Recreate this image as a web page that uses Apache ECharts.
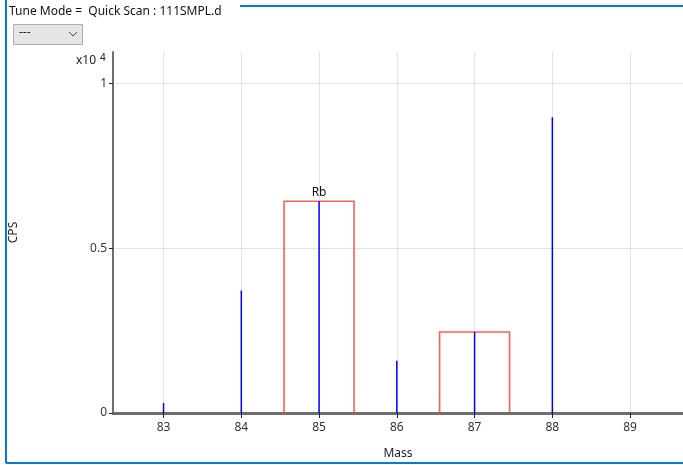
<!DOCTYPE html>
<html>
<head>
<meta charset="utf-8">
<script src="https://cdn.jsdelivr.net/npm/echarts@6/dist/echarts.min.js"></script>
<style>
  html, body { margin: 0; padding: 0; background: #fff; }
  #chart { width: 683px; height: 465px; }
</style>
</head>
<body>
<div id="chart"></div>
<script>
// mass spectrum sticks (CPS in units of 1e4)
const stickMasses = [83, 84, 85, 86, 87, 88];
const stickValues = [0.03, 0.372, 0.643, 0.159, 0.246, 0.898];

// red element windows
const boxMasses = [85, 87];
const boxValues = [0.643, 0.246];
const boxLabels = ["Rb", ""];
const boxHalfWidth = 0.45;

const xTicks = [83, 84, 85, 86, 87, 88, 89];
const yTicks = [0, 0.5, 1];

const font = "'Noto Sans', 'Open Sans', sans-serif";

const chart = echarts.init(document.getElementById("chart"));

const stickData = stickMasses.map((m, i) => [m, stickValues[i]]);
const boxData = boxMasses.map((m, i) => [m, boxValues[i], boxLabels[i]]);

chart.setOption({
  animation: false,
  grid: { left: 108, right: 0, top: 52, bottom: 48 },
  xAxis: {
    type: "value",
    min: 82.35,
    max: 89.68,
    name: "Mass",
    nameLocation: "middle",
    nameGap: 35,
    nameTextStyle: { color: "#222", fontSize: 12, fontFamily: font },
    axisLine: { lineStyle: { color: "#6e6e6e", width: 3 } },
    axisTick: { customValues: xTicks, length: 5, lineStyle: { color: "#222" } },
    axisLabel: { customValues: xTicks, color: "#333", fontSize: 12, fontFamily: font, margin: 9 },
    splitLine: { show: true, lineStyle: { color: "#e3e3e3", width: 1 } }
  },
  yAxis: {
    type: "value",
    min: 0,
    max: 1.096,
    name: "CPS",
    nameLocation: "middle",
    nameGap: 93,
    nameRotate: 90,
    nameTextStyle: { color: "#222", fontSize: 12, fontFamily: font },
    axisLine: { show: true, lineStyle: { color: "#6e6e6e", width: 2 } },
    axisTick: { show: true, customValues: yTicks, length: 4, lineStyle: { color: "#222" } },
    axisLabel: { customValues: yTicks, color: "#333", fontSize: 12, fontFamily: font, margin: 6 },
    splitLine: { show: true, lineStyle: { color: "#e3e3e3", width: 1 } }
  },
  graphic: [
    { type: "line", shape: { x1: 6, y1: 0, x2: 6, y2: 463 }, style: { stroke: "#0a78d7", lineWidth: 2 } },
    { type: "line", shape: { x1: 6, y1: 463, x2: 683, y2: 463 }, style: { stroke: "#0a78d7", lineWidth: 2 } },
    { type: "line", shape: { x1: 240, y1: 6, x2: 683, y2: 6 }, style: { stroke: "#0a78d7", lineWidth: 2 } },
    { type: "text", left: 9, top: 6, style: { text: "Tune Mode =  Quick Scan : 111SMPL.d", fill: "#111", font: "12px " + font } },
    { type: "rect", shape: { x: 13.5, y: 24.5, width: 69, height: 20 }, style: { fill: "#e5e5e5", stroke: "#adadad", lineWidth: 1 } },
    { type: "text", left: 19, top: 27, style: { text: "---", fill: "#222", font: "12px " + font } },
    { type: "polyline", shape: { points: [[69, 32], [73, 36], [77, 32]] }, style: { stroke: "#444", lineWidth: 1, fill: null } },
    { type: "text", left: 76, top: 55, style: { text: "x10", fill: "#222", font: "12px " + font } },
    { type: "text", left: 100, top: 53, style: { text: "4", fill: "#222", font: "10px " + font } }
  ],
  series: [
    {
      type: "custom",
      data: boxData,
      z: 3,
      renderItem: (params, api) => {
        const m = api.value(0);
        const v = api.value(1);
        const p0 = api.coord([m - boxHalfWidth, 0]);
        const p1 = api.coord([m + boxHalfWidth, v]);
        const top = api.coord([m, v]);
        const children = [
          {
            type: "polyline",
            shape: { points: [[p0[0], p0[1]], [p0[0], p1[1]], [p1[0], p1[1]], [p1[0], p0[1]]] },
            style: { stroke: "#ff4a4a", lineWidth: 1.6, fill: null, opacity: 0.9 }
          }
        ];
        const label = boxLabels[params.dataIndex];
        if (label) {
          children.push({
            type: "text",
            style: { text: label, x: top[0], y: top[1] - 3, align: "center", verticalAlign: "bottom", fill: "#111", font: "12px " + font }
          });
        }
        return { type: "group", children };
      }
    },
    {
      type: "custom",
      data: stickData,
      z: 4,
      renderItem: (params, api) => {
        const base = api.coord([api.value(0), 0]);
        const top = api.coord([api.value(0), api.value(1)]);
        return {
          type: "line",
          shape: { x1: base[0], y1: base[1], x2: top[0], y2: top[1] },
          style: { stroke: "#0000ff", lineWidth: 1.5 }
        };
      }
    }
  ]
});
</script>
</body>
</html>
